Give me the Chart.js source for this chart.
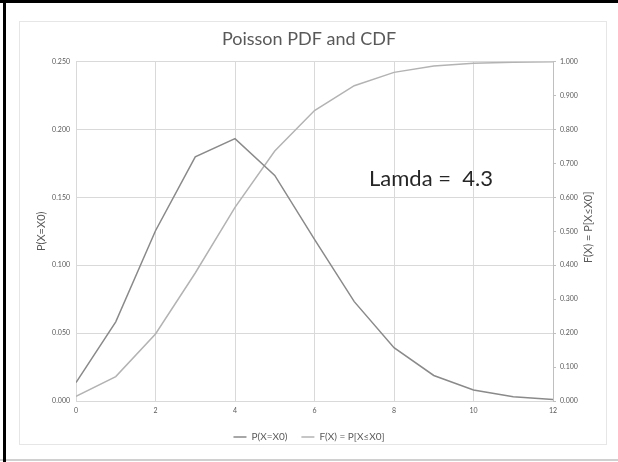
<!DOCTYPE html>
<html>
<head>
<meta charset="utf-8">
<script src="https://cdn.jsdelivr.net/npm/chart.js@4.4.1/dist/chart.umd.min.js"></script>
<style>
  html, body { margin: 0; padding: 0; background: #ffffff; }
  #c { display: block; }
</style>
</head>
<body>
<canvas id="c" width="618" height="462" style="width:618px;height:462px"></canvas>
<script>
// ---- data ----
const xValues   = [0, 1, 2, 3, 4, 5, 6, 7, 8, 9, 10, 11, 12];
const pdfValues = [0.0136, 0.0583, 0.1254, 0.1798, 0.1933, 0.1662, 0.1191, 0.0732, 0.0393, 0.0188, 0.0081, 0.0032, 0.0011];
const cdfValues = [0.0136, 0.0719, 0.1974, 0.3772, 0.5704, 0.7367, 0.8558, 0.9290, 0.9683, 0.9871, 0.9952, 0.9983, 0.9995];
const xTicks    = [0, 2, 4, 6, 8, 10, 12];
const pdfTicks  = [0, 0.05, 0.10, 0.15, 0.20, 0.25];
const cdfTicks  = [0, 0.1, 0.2, 0.3, 0.4, 0.5, 0.6, 0.7, 0.8, 0.9, 1.0];
const pdfLabel  = 'P(X=X0)';
const cdfLabel  = 'F(X) = P[X\u2264X0]';
const titleText = 'Poisson PDF and CDF';
const noteText  = 'Lamda =  4.3';

const FONT = 'Lato, "Open Sans", sans-serif';
const GRID = '#d9d9d9';
const TEXT = '#595959';

const decor = {
  id: 'decor',
  beforeDraw(chart) {
    const ctx = chart.ctx;
    ctx.save();
    ctx.fillStyle = '#ffffff';
    ctx.fillRect(0, 0, chart.width, chart.height);
    // inner chart border
    ctx.strokeStyle = '#e6e6e6';
    ctx.lineWidth = 1;
    ctx.strokeRect(19.5, 21.5, 587, 423);
    // bottom gray line
    ctx.strokeStyle = '#d0d0d0';
    ctx.lineWidth = 2;
    ctx.beginPath(); ctx.moveTo(0, 460); ctx.lineTo(618, 460); ctx.stroke();
    // black frame top & left
    ctx.fillStyle = '#000000';
    ctx.fillRect(0, 0, 618, 3);
    ctx.fillRect(3, 0, 3, 462);
    ctx.restore();
  },
  afterDraw(chart) {
    const ctx = chart.ctx;
    const a = chart.chartArea;
    ctx.save();
    // right axis title (reads bottom to top)
    ctx.translate(588, (a.top + a.bottom) / 2 - 4);
    ctx.rotate(-Math.PI / 2);
    ctx.fillStyle = TEXT;
    ctx.font = '11px ' + FONT;
    ctx.textAlign = 'center';
    ctx.textBaseline = 'middle';
    ctx.fillText(cdfLabel, 0, 0);
    ctx.restore();
    // note
    ctx.save();
    ctx.fillStyle = '#262626';
    ctx.font = '22px ' + FONT;
    ctx.textAlign = 'left';
    ctx.textBaseline = 'alphabetic';
    ctx.fillText(noteText, 369, 186);
    ctx.restore();
  }
};

new Chart(document.getElementById('c'), {
  type: 'line',
  data: {
    datasets: [
      {
        label: pdfLabel,
        data: xValues.map((x, i) => ({ x: x, y: pdfValues[i] })),
        borderColor: '#8a8a8a',
        backgroundColor: '#8a8a8a',
        borderWidth: 1.5,
        pointRadius: 0,
        tension: 0,
        fill: false,
        yAxisID: 'y'
      },
      {
        label: cdfLabel,
        data: xValues.map((x, i) => ({ x: x, y: cdfValues[i] })),
        borderColor: '#b3b3b3',
        backgroundColor: '#b3b3b3',
        borderWidth: 1.5,
        pointRadius: 0,
        tension: 0,
        fill: false,
        yAxisID: 'y1'
      }
    ]
  },
  options: {
    responsive: false,
    animation: false,
    layout: { padding: { left: 0, right: 0, top: 0, bottom: 10 } },
    plugins: {
      title: {
        display: true,
        text: titleText,
        color: TEXT,
        font: { family: FONT, size: 18, weight: 'normal' },
        padding: { top: 28, bottom: 12 }
      },
      legend: {
        display: true,
        position: 'bottom',
        labels: {
          color: TEXT,
          font: { family: FONT, size: 10 },
          usePointStyle: true,
          pointStyle: 'line',
          pointStyleWidth: 13,
          padding: 14
        }
      },
      tooltip: { enabled: false }
    },
    scales: {
      x: {
        type: 'linear',
        position: 'bottom',
        min: 0, max: 12,
        afterBuildTicks: s => { s.ticks = xTicks.map(v => ({ value: v })); },
        afterFit: s => { s.height = 17; },
        grid: { color: GRID, drawTicks: false },
        border: { color: GRID },
        ticks: { color: TEXT, font: { family: FONT, size: 7 }, padding: 6, maxRotation: 0 }
      },
      y: {
        position: 'left',
        min: 0, max: 0.25,
        afterBuildTicks: s => { s.ticks = pdfTicks.map(v => ({ value: v })); },
        afterFit: s => { s.width = 76; },
        grid: { color: GRID, drawTicks: false },
        border: { color: GRID },
        ticks: { color: TEXT, font: { family: FONT, size: 7 }, padding: 6, callback: v => Number(v).toFixed(3) },
        title: { display: true, text: pdfLabel, color: TEXT, font: { family: FONT, size: 11 }, padding: { top: 35, bottom: 0 } }
      },
      y1: {
        position: 'right',
        min: 0, max: 1,
        afterBuildTicks: s => { s.ticks = cdfTicks.map(v => ({ value: v })); },
        afterFit: s => { s.width = 65; },
        grid: { drawOnChartArea: false, drawTicks: true, tickLength: 3, color: '#bfbfbf' },
        border: { color: '#bfbfbf' },
        ticks: { color: TEXT, font: { family: FONT, size: 7 }, padding: 4, callback: v => Number(v).toFixed(3) }
      }
    }
  },
  plugins: [decor]
});
</script>
</body>
</html>
